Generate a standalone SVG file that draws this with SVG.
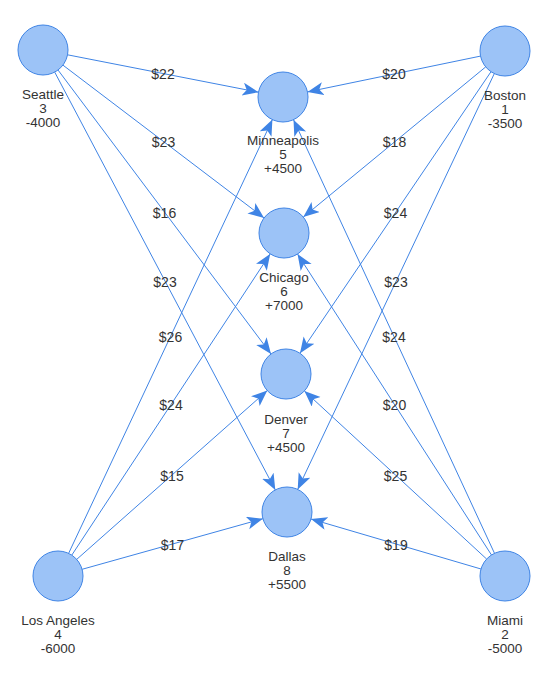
<svg xmlns="http://www.w3.org/2000/svg" width="544" height="691" viewBox="0 0 544 691">
<style>
.node circle{fill:#9cc3f7;stroke:#3f84e5;stroke-width:1}
.node text{font-family:"Liberation Sans",Arial,sans-serif;font-size:13.5px;fill:#333;text-anchor:middle}
.edges line{stroke:#3f84e5;stroke-width:1;marker-end:url(#arr)}
.elabel text{font-family:"Liberation Sans",Arial,sans-serif;font-size:14px;fill:#333;text-anchor:middle;dominant-baseline:central}
</style>
<defs>
<marker id="arr" markerUnits="userSpaceOnUse" markerWidth="18" markerHeight="14" refX="16" refY="6.5" orient="auto">
<path d="M0,0 L16,6.5 L0,13 L4,6.5 z" fill="#3f84e5"/>
</marker>
</defs>
<rect width="544" height="691" fill="#fff"/>
<g id="connectors" class="edges">
<line x1="67.5" y1="54.8" x2="258.5" y2="92.2"/>
<line x1="62.9" y1="65.1" x2="264.1" y2="217.9"/>
<line x1="58" y1="70" x2="271" y2="354"/>
<line x1="54.7" y1="72.1" x2="275.3" y2="489.9"/>
<line x1="480.5" y1="56.1" x2="307.5" y2="91.9"/>
<line x1="485.7" y1="66.9" x2="303.3" y2="217.1"/>
<line x1="491" y1="71.7" x2="300" y2="353.3"/>
<line x1="494.3" y1="73.6" x2="297.7" y2="489.4"/>
<line x1="68.6" y1="553.4" x2="272.4" y2="119.6"/>
<line x1="71.8" y1="555.1" x2="270.2" y2="253.9"/>
<line x1="76.7" y1="559.4" x2="267.3" y2="390.6"/>
<line x1="82.1" y1="569.3" x2="262.9" y2="518.7"/>
<line x1="494.5" y1="553.3" x2="293.5" y2="119.7"/>
<line x1="491.5" y1="555" x2="297.5" y2="254"/>
<line x1="486.6" y1="559" x2="304.4" y2="391"/>
<line x1="481" y1="569" x2="311" y2="519"/>
</g>
<g id="edge-labels" class="elabel">
<text x="163" y="74">$22</text>
<text x="163.5" y="141.5">$23</text>
<text x="164.5" y="212.5">$16</text>
<text x="165" y="281.5">$23</text>
<text x="394" y="74">$20</text>
<text x="394.5" y="142">$18</text>
<text x="395.5" y="212.5">$24</text>
<text x="396" y="281.5">$23</text>
<text x="170.5" y="336.5">$26</text>
<text x="171" y="404.5">$24</text>
<text x="172" y="475.5">$15</text>
<text x="172.5" y="544.5">$17</text>
<text x="394" y="336.5">$24</text>
<text x="394.5" y="404.5">$20</text>
<text x="395.5" y="475.5">$25</text>
<text x="396" y="544.5">$19</text>
</g>
<g id="seattle" class="node"><circle cx="43" cy="50" r="25"/><text x="43" y="98.5">Seattle<tspan x="43" dy="14">3</tspan><tspan x="43" dy="14">-4000</tspan></text></g>
<g id="boston" class="node"><circle cx="505" cy="51" r="25"/><text x="505" y="99.5">Boston<tspan x="505" dy="14">1</tspan><tspan x="505" dy="14">-3500</tspan></text></g>
<g id="minneapolis" class="node"><circle cx="283" cy="97" r="25"/><text x="283" y="144.5">Minneapolis<tspan x="283" dy="14">5</tspan><tspan x="283" dy="14">+4500</tspan></text></g>
<g id="chicago" class="node"><circle cx="284" cy="233" r="25"/><text x="284" y="281.5">Chicago<tspan x="284" dy="14">6</tspan><tspan x="284" dy="14">+7000</tspan></text></g>
<g id="denver" class="node"><circle cx="286" cy="374" r="25"/><text x="286" y="423.5">Denver<tspan x="286" dy="14">7</tspan><tspan x="286" dy="14">+4500</tspan></text></g>
<g id="dallas" class="node"><circle cx="287" cy="512" r="25"/><text x="287" y="560.5">Dallas<tspan x="287" dy="14">8</tspan><tspan x="287" dy="14">+5500</tspan></text></g>
<g id="losangeles" class="node"><circle cx="58" cy="576" r="25"/><text x="58" y="624.5">Los Angeles<tspan x="58" dy="14">4</tspan><tspan x="58" dy="14">-6000</tspan></text></g>
<g id="miami" class="node"><circle cx="505" cy="576" r="25"/><text x="505" y="624.5">Miami<tspan x="505" dy="14">2</tspan><tspan x="505" dy="14">-5000</tspan></text></g>
</svg>
